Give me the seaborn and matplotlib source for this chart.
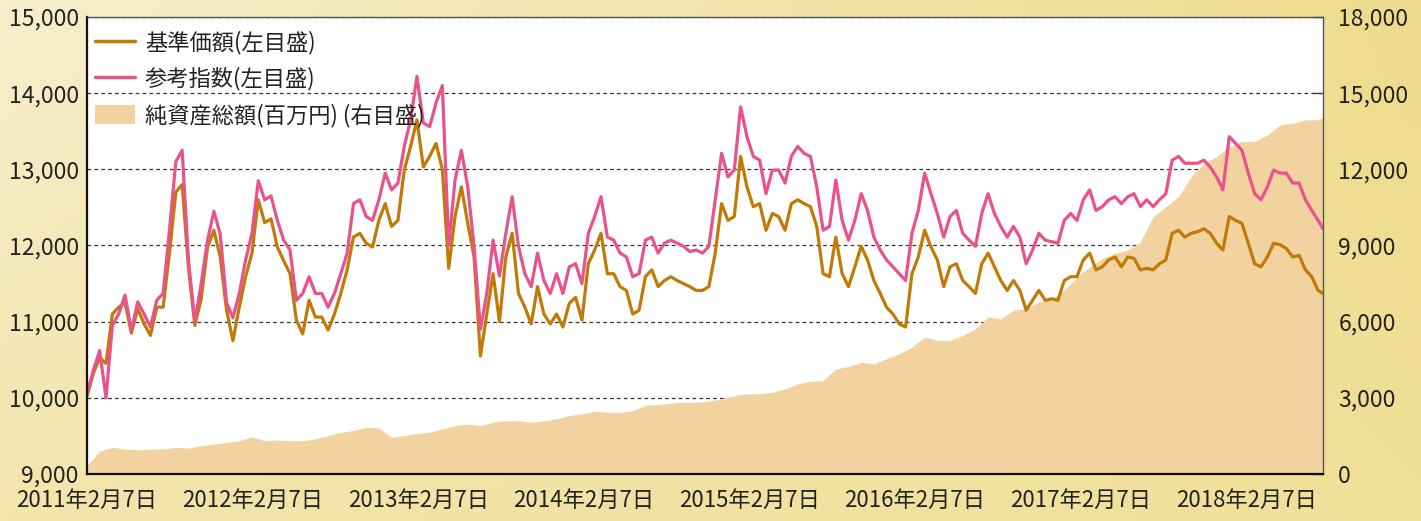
import numpy as np
import pandas as pd
import seaborn as sns
import matplotlib.pyplot as plt
from matplotlib.lines import Line2D
from matplotlib.patches import Patch

# biweekly observation dates, last point = end of chart
dates = list(pd.date_range('2011-02-07', periods=195, freq='14D')) + [pd.Timestamp('2018-07-27')]

# 基準価額 (left axis)
nav = [10020, 10320, 10530, 10450, 11100, 11190, 11250, 10850, 11170, 10970,
       10820, 11190, 11190, 11900, 12700, 12800, 11700, 10950, 11300, 11980,
       12200, 11850, 11150, 10750, 11190, 11590, 11900, 12600, 12300, 12350,
       11980, 11800, 11630, 11020, 10840, 11280, 11060, 11060, 10890, 11100,
       11370, 11680, 12110, 12160, 12030, 11980, 12330, 12550, 12250, 12330,
       12990, 13300, 13650, 13030, 13170, 13340, 13000, 11700, 12380, 12770,
       12290, 11850, 10550, 11100, 11630, 11000, 11850, 12160, 11370, 11190,
       10970, 11460, 11100, 10970, 11100, 10930, 11240, 11320, 11020, 11760,
       11940, 12160, 11630, 11630, 11460, 11410, 11100, 11150, 11590, 11680,
       11460, 11540, 11590, 11540, 11500, 11460, 11410, 11410, 11460, 11900,
       12550, 12330, 12380, 13170, 12770, 12510, 12550, 12200, 12420, 12380,
       12200, 12550, 12600, 12550, 12510, 12250, 11630, 11590, 12110, 11630,
       11460, 11720, 11990, 11810, 11540, 11370, 11190, 11100, 10970, 10930,
       11630, 11850, 12200, 11980, 11810, 11460, 11720, 11760, 11540, 11460,
       11370, 11760, 11900, 11720, 11540, 11410, 11540, 11410, 11150, 11280,
       11410, 11280, 11300, 11280, 11540, 11590, 11590, 11810, 11900, 11680,
       11720, 11810, 11850, 11720, 11850, 11830, 11680, 11700, 11680, 11760,
       11810, 12160, 12200, 12110, 12160, 12180, 12220, 12160, 12030, 11940,
       12380, 12330, 12290, 12030, 11760, 11720, 11850, 12030, 12010, 11960,
       11850, 11870, 11680, 11590, 11410, 11370]

# 参考指数 (left axis)
ref = [10050, 10360, 10620, 10000, 10950, 11100, 11350, 10880, 11260, 11100,
       10930, 11280, 11370, 12200, 13100, 13250, 11800, 11000, 11500, 12070,
       12450, 12150, 11250, 11050, 11370, 11810, 12160, 12850, 12600, 12650,
       12330, 12070, 11940, 11280, 11370, 11590, 11370, 11370, 11190, 11370,
       11630, 11900, 12550, 12600, 12380, 12330, 12600, 12950, 12730, 12820,
       13300, 13650, 14220, 13610, 13560, 13870, 14100, 12000, 12860, 13250,
       12770, 11990, 10900, 11370, 12070, 11600, 12160, 12640, 11990, 11630,
       11460, 11900, 11540, 11370, 11630, 11370, 11720, 11760, 11500, 12160,
       12380, 12640, 12110, 12070, 11900, 11850, 11590, 11630, 12070, 12110,
       11900, 12030, 12070, 12030, 11990, 11920, 11940, 11900, 11990, 12600,
       13210, 12900, 12990, 13820, 13430, 13170, 13120, 12680, 12990, 12990,
       12820, 13170, 13300, 13210, 13170, 12770, 12200, 12250, 12860, 12330,
       12070, 12330, 12680, 12460, 12110, 11940, 11810, 11720, 11630, 11540,
       12160, 12460, 12950, 12680, 12420, 12110, 12380, 12460, 12160, 12070,
       11990, 12420, 12680, 12420, 12250, 12110, 12250, 12110, 11760, 11940,
       12160, 12070, 12050, 12030, 12330, 12420, 12330, 12600, 12730, 12460,
       12510, 12600, 12640, 12550, 12640, 12680, 12510, 12600, 12510, 12600,
       12680, 13120, 13170, 13080, 13080, 13080, 13120, 13030, 12900, 12730,
       13430, 13340, 13250, 12950, 12680, 12600, 12770, 12990, 12950, 12950,
       12820, 12820, 12600, 12460, 12330, 12220]

# 純資産総額 百万円 (right axis), every 4 weeks
asset_dates = dates[:-1][::2] + [dates[-1]]
assets = [330, 900, 1050, 985, 945, 985, 985, 1050, 1020, 1115,
          1180, 1250, 1310, 1470, 1310, 1340, 1310, 1310, 1380, 1510,
          1640, 1710, 1840, 1815, 1445, 1510, 1600, 1640, 1775, 1905,
          1970, 1905, 2040, 2100, 2100, 2040, 2100, 2170, 2300, 2370,
          2470, 2430, 2430, 2500, 2700, 2735, 2790, 2830, 2830, 2870,
          2960, 3090, 3160, 3160, 3220, 3350, 3550, 3650, 3680, 4140,
          4235, 4400, 4340, 4540, 4735, 5000, 5390, 5260, 5260, 5460,
          5720, 6180, 6120, 6450, 6510, 6775, 6900, 7240, 7760, 8160,
          8490, 8690, 8820, 9140, 10130, 10525, 10920, 11710, 12240, 12500,
          12900, 13100, 13100, 13355, 13750, 13820, 13950, 13950, 14060]

years = list(range(2011, 2019))
tick_dates = [pd.Timestamp(f'{y}-02-07') for y in years]
tick_labels = [f'{y}年2月7日' for y in years]

gold = '#C27A06'
pink = '#E9528A'
fillc = '#F2D3A0'

sns.set_theme(style='white')
plt.rcParams['font.family'] = ['Noto Sans CJK JP', 'DejaVu Sans']

fig = plt.figure(figsize=(14.21, 5.21), dpi=100)

# gold gradient background
bg = fig.add_axes([0, 0, 1, 1], zorder=-10)
yy, xx = np.mgrid[0:1:60j, 0:1:160j]
tl = np.array([247, 238, 205]); tr = np.array([238, 220, 140])
bl = np.array([243, 229, 172]); br = np.array([240, 224, 152])
img = (tl * ((1 - xx) * (1 - yy))[..., None] + tr * (xx * (1 - yy))[..., None]
       + bl * ((1 - xx) * yy)[..., None] + br * (xx * yy)[..., None]) / 255
bg.imshow(img, aspect='auto', extent=[0, 1, 0, 1])
bg.axis('off')

ax = fig.add_axes([0.0612, 0.0902, 0.8699, 0.8772])
ax2 = ax.twinx()
ax.set_zorder(2)
ax2.set_zorder(1)
ax.patch.set_visible(False)
ax2.patch.set_facecolor('white')
ax2.patch.set_visible(True)

# net assets area on the right axis, grid below it
ax2.fill_between(asset_dates, assets, color=fillc, linewidth=0, zorder=2)
ax2.set_ylim(0, 18000)
ax2.set_yticks(range(0, 18001, 3000))
ax2.set_yticklabels([f'{v:,}' for v in range(0, 18001, 3000)])
ax2.set_axisbelow(True)
ax2.grid(axis='y', color='#333333', linestyle=(0, (3, 2.5)), linewidth=0.9)
ax2.tick_params(axis='y', direction='in', length=7, width=1, pad=11,
                labelsize=16.5, labelcolor='#222222', color='#444444')

df = pd.DataFrame({'date': dates * 2, 'value': nav + ref,
                   'series': ['基準価額'] * len(dates) + ['参考指数'] * len(dates)})
sns.lineplot(data=df, x='date', y='value', hue='series',
             hue_order=['基準価額', '参考指数'],
             palette={'基準価額': gold, '参考指数': pink},
             linewidth=2.3, ax=ax, legend=False)

ax.set_ylim(9000, 15000)
ax.set_yticks(range(9000, 15001, 1000))
ax.set_yticklabels([f'{v:,}' for v in range(9000, 15001, 1000)])
ax.set_xlim(dates[0], dates[-1])
ax.set_xticks(tick_dates)
ax.set_xticklabels(tick_labels)
ax.set_xlabel('')
ax.set_ylabel('')
ax.tick_params(axis='y', length=0, pad=6, labelsize=16.5, labelcolor='#222222')
ax.tick_params(axis='x', direction='in', length=6, width=1, pad=11,
               labelsize=16, labelcolor='#222222', color='#333333')

for side in ['top', 'right']:
    ax.spines[side].set_color('#555555')
    ax.spines[side].set_linewidth(1.0)
for side in ['left', 'bottom']:
    ax.spines[side].set_color('#111111')
    ax.spines[side].set_linewidth(1.6)
for s in ax2.spines.values():
    s.set_visible(False)

handles = [Line2D([], [], color=gold, lw=2.5),
           Line2D([], [], color=pink, lw=2.5),
           Patch(facecolor=fillc, edgecolor='none')]
labels = ['基準価額(左目盛)', '参考指数(左目盛)', '純資産総額(百万円) (右目盛)']
leg = ax.legend(handles, labels, loc='upper left', bbox_to_anchor=(0.001, 0.985),
                frameon=False, fontsize=16,
                handlelength=1.8, handleheight=0.9, handletextpad=0.45,
                labelspacing=0.58, borderaxespad=0.1, borderpad=0.2)
for t in leg.get_texts():
    t.set_color('#222222')

fig.savefig('out.png', dpi=100)
